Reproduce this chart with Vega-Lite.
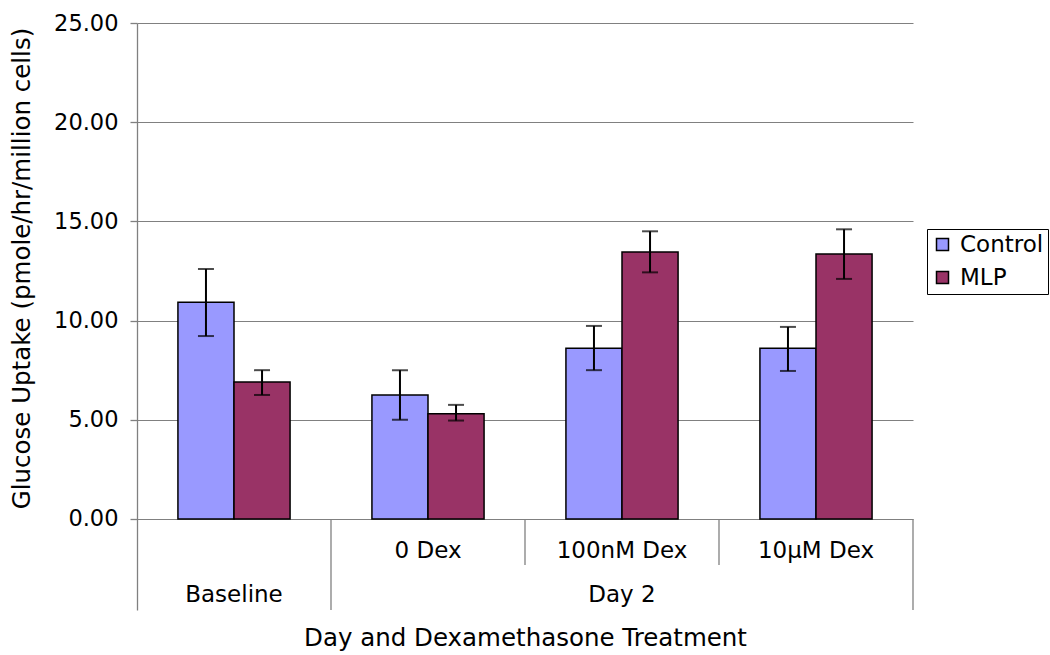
{
  "$schema": "https://vega.github.io/schema/vega-lite/v6.json",
  "width": 776,
  "height": 587,
  "autosize": {"type": "none"},
  "padding": {"left": 137, "top": 23, "right": 137, "bottom": 45},
  "background": "white",
  "config": {
    "view": {"stroke": null},
    "font": "DejaVu Sans",
    "axisX": {"labels": false, "ticks": false, "domain": false, "grid": false, "titleFontSize": 24.5, "titleFontWeight": "normal", "titleColor": "black", "titlePadding": 16, "titleFont": "DejaVu Sans"},
    "axisY": {"titleFontSize": 24.5, "titleFontWeight": "normal", "titleColor": "black", "titleFont": "DejaVu Sans"}
  },
  "datasets": {
    "uptake": [
      {"group": "Baseline", "series": "Control", "mean": 10.92, "lo": 9.22, "hi": 12.6},
      {"group": "Baseline", "series": "MLP", "mean": 6.9, "lo": 6.25, "hi": 7.5},
      {"group": "0 Dex", "series": "Control", "mean": 6.25, "lo": 5.0, "hi": 7.5},
      {"group": "0 Dex", "series": "MLP", "mean": 5.3, "lo": 4.96, "hi": 5.75},
      {"group": "100nM Dex", "series": "Control", "mean": 8.6, "lo": 7.5, "hi": 9.73},
      {"group": "100nM Dex", "series": "MLP", "mean": 13.46, "lo": 12.43, "hi": 14.5},
      {"group": "10µM Dex", "series": "Control", "mean": 8.6, "lo": 7.46, "hi": 9.68},
      {"group": "10µM Dex", "series": "MLP", "mean": 13.36, "lo": 12.1, "hi": 14.6}
    ],
    "groups": [
      {"group": "Baseline", "treatment": "", "day": "Baseline"},
      {"group": "0 Dex", "treatment": "0 Dex", "day": "Day 2"},
      {"group": "100nM Dex", "treatment": "100nM Dex", "day": "Day 2"},
      {"group": "10µM Dex", "treatment": "10µM Dex", "day": "Day 2"}
    ]
  },
  "layer": [
    {
      "data": {"name": "uptake"},
      "mark": {"type": "bar", "stroke": "black", "strokeWidth": 1.5},
      "encoding": {
        "x": {"field": "group", "type": "nominal", "sort": null, "title": "Day and Dexamethasone Treatment",
              "scale": {"domain": ["Baseline", "0 Dex", "100nM Dex", "10µM Dex"], "paddingInner": 0, "paddingOuter": 0}},
        "xOffset": {"field": "series", "type": "nominal", "scale": {"domain": ["Control", "MLP"], "paddingInner": 0, "paddingOuter": 0.73}},
        "y": {"field": "mean", "type": "quantitative", "title": "Glucose Uptake (pmole/hr/million cells)",
              "scale": {"domain": [-4.59, 25], "nice": false, "zero": false},
              "axis": {"values": [0, 5, 10, 15, 20, 25], "format": ".2f", "grid": true, "gridColor": "#808080", "gridWidth": 1,
                       "domainColor": "#808080", "domainWidth": 1.3, "tickColor": "#808080", "tickSize": 7, "tickWidth": 1.3,
                       "labelFontSize": 22.5, "labelColor": "black", "labelPadding": 12, "labelFont": "DejaVu Sans", "titlePadding": 19, "titleY": 245}},
        "fill": {"field": "series", "type": "nominal", "scale": {"domain": ["Control", "MLP"], "range": ["#9999FF", "#993366"]},
                 "legend": {"title": null, "orient": "none", "legendX": 790, "legendY": 206, "strokeColor": "black", "padding": 4,
                            "symbolType": "square", "symbolSize": 144, "symbolStrokeColor": "black", "symbolStrokeWidth": 1.5,
                            "labelFontSize": 23, "labelColor": "black", "labelFont": "DejaVu Sans", "rowPadding": 9, "labelOffset": 6}}
      }
    },
    {
      "data": {"name": "uptake"},
      "mark": {"type": "rule", "color": "black", "strokeWidth": 2},
      "encoding": {
        "x": {"field": "group", "type": "nominal", "sort": null, "title": "Day and Dexamethasone Treatment"},
        "xOffset": {"field": "series", "type": "nominal"},
        "y": {"field": "lo", "type": "quantitative", "title": "Glucose Uptake (pmole/hr/million cells)"},
        "y2": {"field": "hi"}
      }
    },
    {
      "data": {"name": "uptake"},
      "mark": {"type": "tick", "color": "black", "thickness": 2, "size": 16, "orient": "horizontal"},
      "encoding": {
        "x": {"field": "group", "type": "nominal", "sort": null, "title": "Day and Dexamethasone Treatment"},
        "xOffset": {"field": "series", "type": "nominal"},
        "y": {"field": "lo", "type": "quantitative", "title": "Glucose Uptake (pmole/hr/million cells)"}
      }
    },
    {
      "data": {"name": "uptake"},
      "mark": {"type": "tick", "color": "black", "thickness": 2, "size": 16, "orient": "horizontal"},
      "encoding": {
        "x": {"field": "group", "type": "nominal", "sort": null, "title": "Day and Dexamethasone Treatment"},
        "xOffset": {"field": "series", "type": "nominal"},
        "y": {"field": "hi", "type": "quantitative", "title": "Glucose Uptake (pmole/hr/million cells)"}
      }
    },
    {
      "data": {"name": "groups"},
      "transform": [{"filter": "datum.treatment != ''"}],
      "mark": {"type": "text", "fontSize": 23, "color": "black", "baseline": "middle", "align": "center", "font": "DejaVu Sans"},
      "encoding": {
        "x": {"field": "group", "type": "nominal", "sort": null, "title": "Day and Dexamethasone Treatment"},
        "y": {"datum": -1.6},
        "text": {"field": "treatment"}
      }
    },
    {
      "data": {"name": "groups"},
      "transform": [{"filter": "datum.group == 'Baseline' || datum.group == '100nM Dex'"}],
      "mark": {"type": "text", "fontSize": 23, "color": "black", "baseline": "middle", "align": "center", "font": "DejaVu Sans"},
      "encoding": {
        "x": {"field": "group", "type": "nominal", "sort": null, "title": "Day and Dexamethasone Treatment"},
        "y": {"datum": -3.85},
        "text": {"field": "day"}
      }
    },
    {
      "data": {"name": "groups"},
      "transform": [{"filter": "datum.group == '100nM Dex' || datum.group == '10µM Dex'"}],
      "mark": {"type": "rule", "color": "#808080", "strokeWidth": 1.3},
      "encoding": {
        "x": {"field": "group", "type": "nominal", "sort": null, "bandPosition": 0, "title": "Day and Dexamethasone Treatment"},
        "y": {"datum": 0},
        "y2": {"datum": -2.32}
      }
    },
    {
      "data": {"name": "groups"},
      "transform": [{"filter": "datum.group == '0 Dex'"}],
      "mark": {"type": "rule", "color": "#808080", "strokeWidth": 1.3},
      "encoding": {
        "x": {"field": "group", "type": "nominal", "sort": null, "bandPosition": 0, "title": "Day and Dexamethasone Treatment"},
        "y": {"datum": 0},
        "y2": {"datum": -4.59}
      }
    },
    {
      "data": {"name": "groups"},
      "transform": [{"filter": "datum.group == '10µM Dex'"}],
      "mark": {"type": "rule", "color": "#808080", "strokeWidth": 1.3},
      "encoding": {
        "x": {"field": "group", "type": "nominal", "sort": null, "bandPosition": 1, "title": "Day and Dexamethasone Treatment"},
        "y": {"datum": 0},
        "y2": {"datum": -4.59}
      }
    }
  ]
}
